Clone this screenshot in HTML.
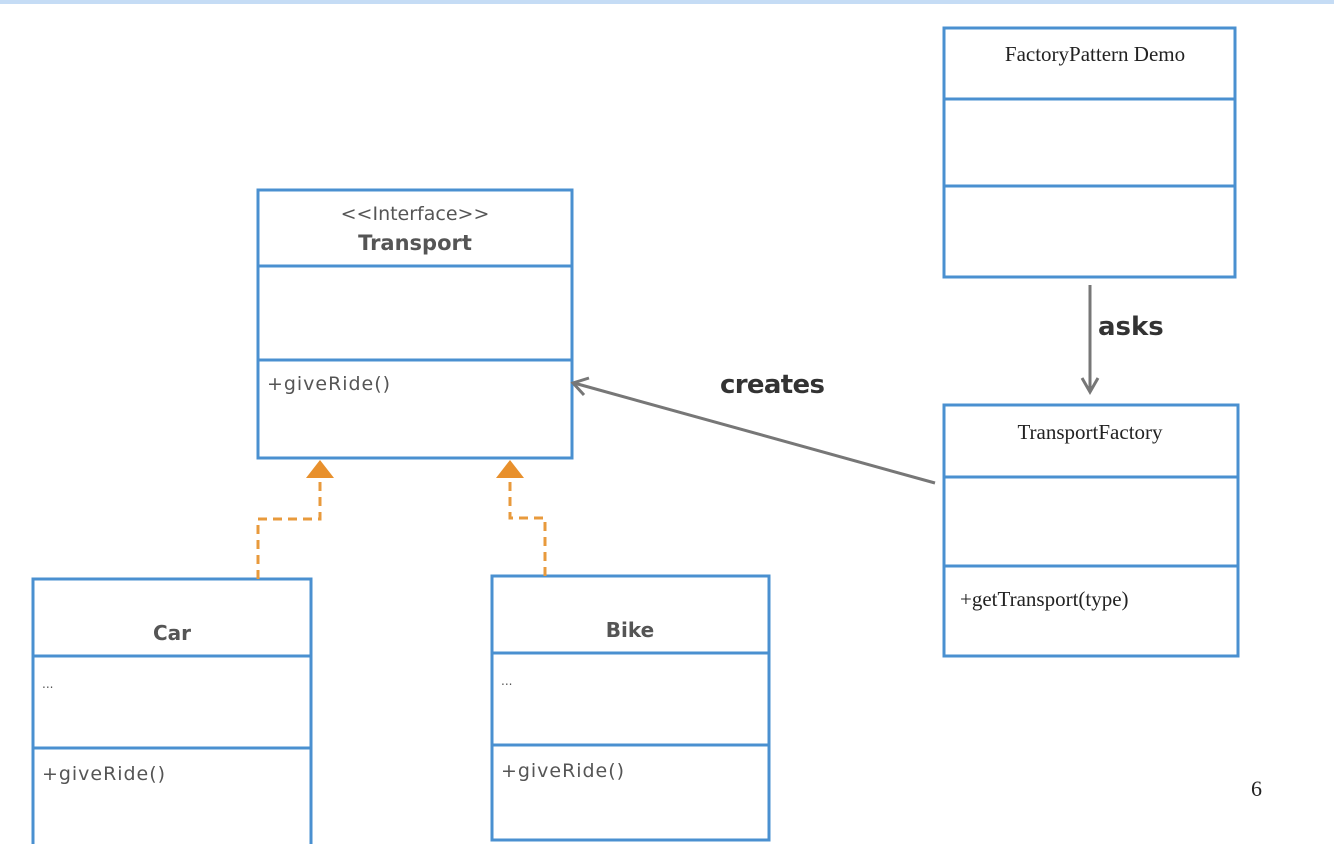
<!DOCTYPE html>
<html><head><style>
body{margin:0;width:1334px;height:844px;overflow:hidden;background:#fff}
svg{display:block}
.s{font-family:"DejaVu Sans","Liberation Sans",sans-serif;fill:#555}
.r{font-family:"Liberation Serif",serif;fill:#222}
</style></head><body>
<svg width="1334" height="844" viewBox="0 0 1334 844">
<rect x="0" y="0" width="1334" height="4" fill="#c5dcf5"/>
<g fill="none" stroke="#4a90d0" stroke-width="3">
<rect x="258" y="190" width="314" height="268"/><line x1="258" y1="266" x2="572" y2="266"/><line x1="258" y1="360" x2="572" y2="360"/>
<rect x="33" y="579" width="278" height="270"/><line x1="33" y1="656" x2="311" y2="656"/><line x1="33" y1="748" x2="311" y2="748"/>
<rect x="492" y="576" width="277" height="264"/><line x1="492" y1="653" x2="769" y2="653"/><line x1="492" y1="745" x2="769" y2="745"/>
<rect x="944" y="28" width="291" height="249"/><line x1="944" y1="99" x2="1235" y2="99"/><line x1="944" y1="186" x2="1235" y2="186"/>
<rect x="944" y="405" width="294" height="251"/><line x1="944" y1="477" x2="1238" y2="477"/><line x1="944" y1="566" x2="1238" y2="566"/>
</g>
<g fill="none" stroke="#e89a3c" stroke-width="3" stroke-dasharray="9,6">
<polyline points="258,579 258,519 320,519 320,478"/>
<polyline points="545,576 545,518 510,518 510,478"/>
</g>
<polygon points="306,478 334,478 320,460" fill="#e8902c"/>
<polygon points="496,478 524,478 510,460" fill="#e8902c"/>
<g stroke="#777" stroke-width="3" fill="none">
<line x1="935" y1="483" x2="574" y2="383"/>
<polyline points="589,378 573,383 584,395"/>
<line x1="1090" y1="285" x2="1090" y2="392"/>
<polyline points="1082,378 1090,392 1098,378"/>
</g>
<text x="415" y="220" text-anchor="middle" class="s" font-size="19">&lt;&lt;Interface&gt;&gt;</text>
<text x="415" y="250" text-anchor="middle" class="s" font-size="21" font-weight="bold">Transport</text>
<text x="267" y="390" class="s" font-size="19" textLength="123">+giveRide()</text>
<text x="172" y="640" text-anchor="middle" class="s" font-size="20" font-weight="bold">Car</text>
<text x="42" y="688" class="s" font-size="12">...</text>
<text x="42" y="780" class="s" font-size="19" textLength="123">+giveRide()</text>
<text x="630" y="637" text-anchor="middle" class="s" font-size="20" font-weight="bold">Bike</text>
<text x="501" y="685" class="s" font-size="12">...</text>
<text x="501" y="777" class="s" font-size="19" textLength="123">+giveRide()</text>
<text x="1095" y="61" text-anchor="middle" class="r" font-size="21">FactoryPattern Demo</text>
<text x="1090" y="439" text-anchor="middle" class="r" font-size="21">TransportFactory</text>
<text x="960" y="606" class="r" font-size="21">+getTransport(type)</text>
<text x="1098" y="335" class="s" font-size="26" font-weight="bold" style="fill:#333">asks</text>
<text x="720" y="393" class="s" font-size="26" font-weight="bold" style="fill:#333" textLength="105">creates</text>
<text x="1251" y="796" class="r" font-size="22">6</text>
</svg>
</body></html>
